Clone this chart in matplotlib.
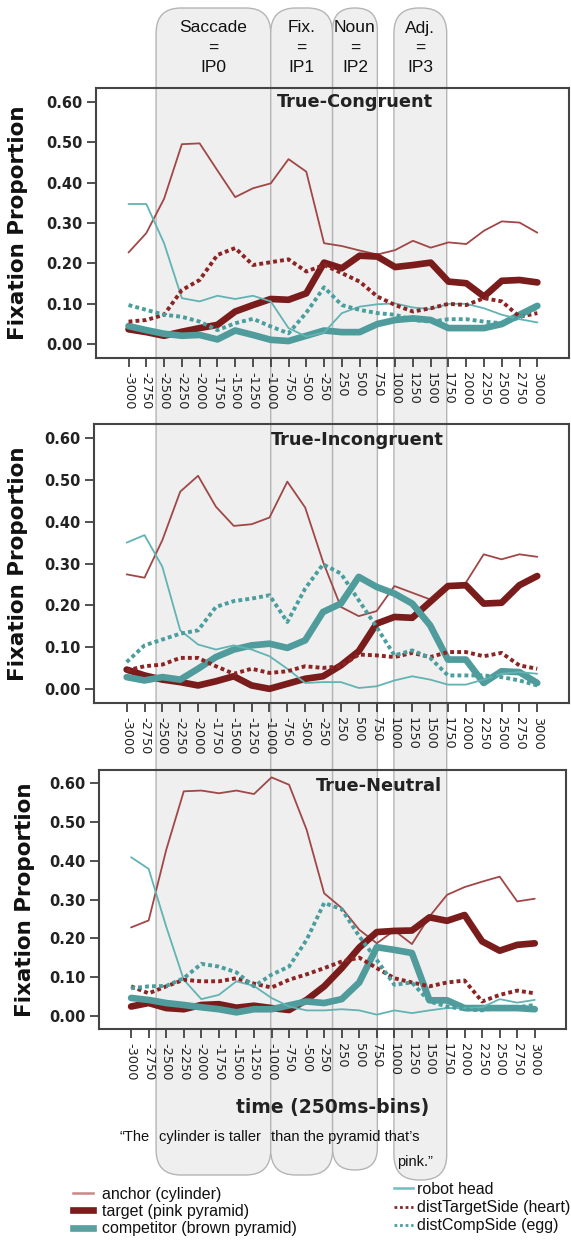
import matplotlib
matplotlib.use('Agg')
import matplotlib.pyplot as plt
from matplotlib.patches import FancyBboxPatch
from matplotlib.lines import Line2D
import numpy as np

# 250 ms bins around sentence onset
bins = [-3000, -2750, -2500, -2250, -2000, -1750, -1500, -1250, -1000, -750, -500, -250,
        250, 500, 750, 1000, 1250, 1500, 1750, 2000, 2250, 2500, 2750, 3000]
bin_labels = [str(b) for b in bins]
conditions = ['True-Congruent', 'True-Incongruent', 'True-Neutral']

# True-Congruent
anchor_cong = [0.227, 0.275, 0.36, 0.495, 0.497, 0.43, 0.364, 0.386, 0.398, 0.458, 0.427, 0.25,
               0.243, 0.232, 0.222, 0.233, 0.256, 0.239, 0.252, 0.248, 0.281, 0.304, 0.301, 0.276]
target_cong = [0.037, 0.030, 0.021, 0.031, 0.040, 0.048, 0.081, 0.097, 0.112, 0.110, 0.126, 0.202,
               0.188, 0.219, 0.217, 0.191, 0.196, 0.202, 0.155, 0.151, 0.118, 0.157, 0.159, 0.153]
comp_cong = [0.045, 0.035, 0.026, 0.021, 0.023, 0.012, 0.034, 0.023, 0.011, 0.008, 0.021, 0.034,
             0.030, 0.030, 0.050, 0.060, 0.064, 0.060, 0.040, 0.040, 0.040, 0.050, 0.073, 0.095]
robot_cong = [0.347, 0.347, 0.25, 0.114, 0.106, 0.120, 0.112, 0.120, 0.106, 0.040, 0.019, 0.029,
              0.077, 0.093, 0.099, 0.101, 0.091, 0.087, 0.100, 0.100, 0.089, 0.073, 0.062, 0.054]
dtarg_cong = [0.056, 0.060, 0.073, 0.134, 0.159, 0.221, 0.238, 0.196, 0.203, 0.210, 0.180, 0.196,
              0.176, 0.155, 0.118, 0.097, 0.081, 0.089, 0.100, 0.097, 0.114, 0.106, 0.068, 0.077]
dcomp_cong = [0.097, 0.085, 0.073, 0.068, 0.056, 0.035, 0.052, 0.063, 0.044, 0.027, 0.078, 0.141,
              0.097, 0.085, 0.077, 0.073, 0.060, 0.056, 0.062, 0.062, 0.056, 0.052, 0.066, 0.091]

# True-Incongruent
anchor_incg = [0.274, 0.266, 0.356, 0.472, 0.510, 0.436, 0.390, 0.394, 0.410, 0.496, 0.434, 0.304,
               0.196, 0.174, 0.186, 0.246, 0.230, 0.214, 0.248, 0.254, 0.322, 0.310, 0.322, 0.316]
target_incg = [0.046, 0.032, 0.022, 0.016, 0.008, 0.018, 0.030, 0.008, 0.000, 0.012, 0.024, 0.030,
               0.056, 0.090, 0.156, 0.172, 0.170, 0.208, 0.246, 0.248, 0.204, 0.206, 0.248, 0.270]
comp_incg = [0.028, 0.020, 0.028, 0.022, 0.048, 0.076, 0.094, 0.104, 0.108, 0.098, 0.116, 0.184,
             0.204, 0.268, 0.244, 0.228, 0.204, 0.152, 0.070, 0.070, 0.014, 0.042, 0.040, 0.014]
robot_incg = [0.350, 0.368, 0.292, 0.140, 0.106, 0.094, 0.104, 0.094, 0.078, 0.048, 0.014, 0.016,
              0.016, 0.002, 0.006, 0.020, 0.030, 0.022, 0.010, 0.010, 0.022, 0.036, 0.040, 0.036]
dtarg_incg = [0.044, 0.054, 0.058, 0.074, 0.074, 0.054, 0.036, 0.048, 0.038, 0.042, 0.054, 0.050,
              0.054, 0.082, 0.080, 0.076, 0.086, 0.076, 0.088, 0.088, 0.078, 0.086, 0.056, 0.048]
dcomp_incg = [0.064, 0.104, 0.118, 0.132, 0.140, 0.196, 0.210, 0.216, 0.224, 0.160, 0.240, 0.298,
              0.276, 0.212, 0.148, 0.080, 0.092, 0.074, 0.032, 0.032, 0.032, 0.028, 0.020, 0.008]

# True-Neutral
anchor_neut = [0.228, 0.246, 0.428, 0.579, 0.581, 0.574, 0.581, 0.572, 0.615, 0.596, 0.480, 0.316,
               0.278, 0.222, 0.187, 0.220, 0.185, 0.256, 0.312, 0.332, 0.346, 0.359, 0.295, 0.302]
target_neut = [0.024, 0.033, 0.020, 0.017, 0.028, 0.030, 0.021, 0.026, 0.020, 0.015, 0.041, 0.076,
               0.123, 0.176, 0.216, 0.219, 0.220, 0.254, 0.245, 0.260, 0.192, 0.168, 0.183, 0.187]
comp_neut = [0.046, 0.041, 0.033, 0.028, 0.022, 0.017, 0.009, 0.017, 0.017, 0.027, 0.037, 0.033,
             0.043, 0.086, 0.177, 0.170, 0.162, 0.040, 0.040, 0.020, 0.020, 0.020, 0.020, 0.017]
robot_neut = [0.409, 0.379, 0.23, 0.093, 0.043, 0.054, 0.089, 0.077, 0.046, 0.024, 0.014, 0.014,
              0.017, 0.014, 0.003, 0.014, 0.007, 0.014, 0.020, 0.020, 0.022, 0.043, 0.034, 0.041]
dtarg_neut = [0.076, 0.058, 0.076, 0.093, 0.089, 0.089, 0.097, 0.083, 0.073, 0.093, 0.107, 0.123,
              0.140, 0.150, 0.123, 0.097, 0.086, 0.076, 0.086, 0.091, 0.037, 0.054, 0.065, 0.058]
dcomp_neut = [0.071, 0.076, 0.077, 0.097, 0.134, 0.127, 0.112, 0.076, 0.106, 0.127, 0.196, 0.291,
              0.275, 0.205, 0.144, 0.080, 0.086, 0.037, 0.024, 0.017, 0.014, 0.022, 0.022, 0.028]

series_names = ['anchor (cylinder)', 'target (pink pyramid)', 'competitor (brown pyramid)',
                'robot head', 'distTargetSide (heart)', 'distCompSide (egg)']
panel_data = [
    [anchor_cong, target_cong, comp_cong, robot_cong, dtarg_cong, dcomp_cong],
    [anchor_incg, target_incg, comp_incg, robot_incg, dtarg_incg, dcomp_incg],
    [anchor_neut, target_neut, comp_neut, robot_neut, dtarg_neut, dcomp_neut],
]

# interest periods, in bin-index units of the x axis
ip_names = ['Saccade', 'Fix.', 'Noun', 'Adj.']
ip_codes = ['IP0', 'IP1', 'IP2', 'IP3']
ip_start = [1.55, 8.0, 11.48, 14.93]
ip_end = [8.0, 11.48, 14.0, 17.9]
ip_bottom = [1175, 1175, 1170, 1180]

styles = [
    dict(color='#a04747', lw=1.3, ls='-'),
    dict(color='#7a1c1c', lw=4.8, ls='-'),
    dict(color='#509c9c', lw=4.8, ls='-'),
    dict(color='#62b3b3', lw=1.3, ls='-'),
    dict(color='#8c2424', lw=2.8, ls=(0, (1, 0.8))),
    dict(color='#4a9e9e', lw=2.8, ls=(0, (1, 0.8))),
]

W, H = 571, 1241
fig = plt.figure(figsize=(W / 100, H / 100), dpi=100)

bg = fig.add_axes([0, 0, 1, 1], zorder=0)
bg.set_xlim(0, W)
bg.set_ylim(H, 0)
bg.axis('off')

# panel boxes in pixels: left, top, right, bottom
boxes = [(96, 88, 569, 358), (94, 424, 569, 703), (99, 770, 566, 1029)]
title_pos = [(355, 102), (357, 440), (379, 786)]
ylab_right = [28, 28, 35]

x = np.arange(len(bins))
axes = []
for k, (l, t, r, b) in enumerate(boxes):
    ax = fig.add_axes([l / W, 1 - b / H, (r - l) / W, (b - t) / H], zorder=2)
    ax.set_facecolor('none')
    for vals, st in zip(panel_data[k], styles):
        ax.plot(x, vals, color=st['color'], lw=st['lw'], ls=st['ls'],
                solid_joinstyle='round', solid_capstyle='round', dash_capstyle='butt')
    ax.set_xlim(-1.83, 24.78)
    ax.set_ylim(-0.034, 0.634)
    ax.set_yticks(np.arange(0, 0.61, 0.1))
    ax.set_yticklabels(['%.2f' % v for v in np.arange(0, 0.61, 0.1)],
                       fontsize=10.5, fontweight='bold', color='#222')
    ax.set_xticks(x)
    ax.set_xticklabels(bin_labels, rotation=-90, fontsize=9.3, color='#222')
    ax.tick_params(axis='both', direction='out', length=6.5, width=1.2, color='#333')
    ax.tick_params(axis='x', pad=3.5)
    ax.tick_params(axis='y', pad=3)
    for sp in ax.spines.values():
        sp.set_color('#444')
        sp.set_linewidth(1.5)
    ax.set_ylabel('Fixation Proportion', fontsize=15.5, fontweight='bold', color='#111')
    ax.yaxis.set_label_coords((ylab_right[k] - l) / (r - l), 0.5)
    tx, ty = title_pos[k]
    ax.text((tx - l) / (r - l), (b - ty) / (b - t), conditions[k], transform=ax.transAxes,
            ha='center', va='center', fontsize=12.8, fontweight='bold', color='#222')
    axes.append(ax)

# interest-period tabs, spanning all three panels
for name, code, s, e, bot in zip(ip_names, ip_codes, ip_start, ip_end, ip_bottom):
    x0 = axes[0].transData.transform((s, 0))[0]
    x1 = axes[0].transData.transform((e, 0))[0]
    top = 8
    rad = min(25, (x1 - x0) / 2 - 0.5)
    bg.add_patch(FancyBboxPatch((x0, top), x1 - x0, bot - top,
                                boxstyle='round,pad=0,rounding_size=%g' % rad,
                                facecolor='#efefef', edgecolor='#b5b5b5', lw=1.0))
    cx = (x0 + x1) / 2
    for txt, yy in zip([name, '=', code], [28, 48, 67]):
        bg.text(cx, yy, txt, ha='center', va='center', fontsize=12.5,
                family='Liberation Sans', color='#111')

bg.text(333, 1108, 'time (250ms-bins)', ha='center', va='center', fontsize=13.5,
        fontweight='bold', color='#222')

sent_kw = dict(va='center', fontsize=10.5, family='Liberation Sans', color='#111')
bg.text(119, 1137, '\u201cThe', ha='left', **sent_kw)
bg.text(159, 1137, 'cylinder is taller', ha='left', **sent_kw)
bg.text(271, 1137, 'than the pyramid that\u2019s', ha='left', **sent_kw)
bg.text(433, 1162, 'pink.\u201d', ha='right', **sent_kw)

legend_colors = ['#c98787', '#7a1c1c', '#5aa0a0', '#6cc0c0', '#8c2424', '#4a9e9e']
handles = []
for st, c in zip(styles, legend_colors):
    lw = st['lw'] if st['lw'] > 3 else (1.8 if st['ls'] == '-' else 2.0)
    handles.append(Line2D([], [], color=c, lw=lw, ls='-' if st['ls'] == '-' else (0, (1, 1))))

leg_kw = dict(frameon=False, loc='upper left', bbox_transform=fig.transFigure,
              borderpad=0, borderaxespad=0,
              prop={'family': 'Liberation Sans', 'size': 11.5})
leg1 = fig.legend(handles[:3], series_names[:3], bbox_to_anchor=(72.7 / W, 1 - 1186.5 / H),
                  handlelength=1.29, handletextpad=0.52, labelspacing=0.15, **leg_kw)
leg2 = fig.legend(handles[3:], series_names[3:], bbox_to_anchor=(394.3 / W, 1 - 1182 / H),
                  handlelength=1.15, handletextpad=0.27, labelspacing=0.2, **leg_kw)
for lg in (leg1, leg2):
    for t in lg.get_texts():
        t.set_color('#111')

fig.savefig('out.png', dpi=100)
